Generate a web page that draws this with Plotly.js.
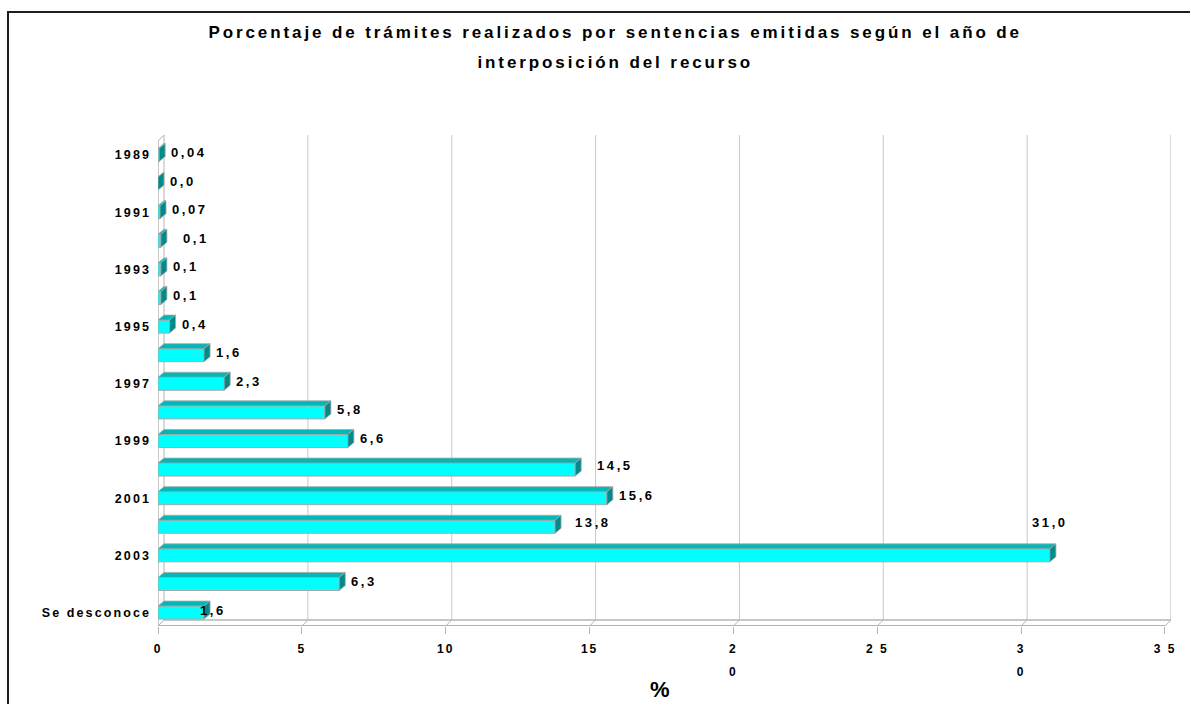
<!DOCTYPE html>
<html>
<head>
<meta charset="utf-8">
<script src="https://cdn.plot.ly/plotly-3.0.1.min.js"></script>
<style>
  body { margin: 0; background: #ffffff; }
  #wrap { position: relative; width: 1190px; height: 704px; overflow: hidden; }
  #chart { width: 1190px; height: 704px; }
  #frame { position: absolute; left: 7px; top: 11px; width: 1200px; height: 720px;
           border-left: 2px solid #1e1e1e; border-top: 2px solid #1e1e1e; pointer-events: none; }
  .gtitle { letter-spacing: 2.9px; }
  .ytick text { letter-spacing: 2.1px; }
  .xtick text { letter-spacing: 2px; }
  .annotation-text { letter-spacing: 2.6px; }
</style>
</head>
<body>
<div id="wrap">
  <div id="chart"></div>
  <div id="frame"></div>
</div>
<script>
// ---- data ----
const categories = ['1989','1990','1991','1992','1993','1994','1995','1996','1997',
                    '1998','1999','2000','2001','2002','2003','2004','Se desconoce'];
const values = [0.04, 0.0, 0.07, 0.1, 0.1, 0.1, 0.4, 1.6, 2.3,
                5.8, 6.6, 14.5, 15.6, 13.8, 31.0, 6.3, 1.6];
const xTickValues = [0, 5, 10, 15, 20, 25, 30, 35];
const xTickLabels = ['0', '5', '10', '15', '2<br><br>0', '2 5', '3<br><br>0', '3 5'];
const titleLine1 = 'Porcentaje de trámites realizados por sentencias emitidas según el año de';
const titleLine2 = 'interposición del recurso';
const xTitle = '%';

// ---- styling / geometry (not data) ----
const FONT = 'Liberation Sans, Arial, sans-serif';
const xMax = 35;
const depthX = 0.209;   // 3D depth offset in x units (~6px)
const depthY = 0.21;    // 3D depth offset in category units (~6px)
const barW = 0.455;
const barDX = 0.209, barDY = 0.175;
const yBottom = 16.47, yTop = -0.70;
const gridColor = '#c8c8c8', wallColor = '#b4b4b4';
const labelNudge = { '1992': [10, 0], '2000': [10, 2], '2002': [8, 2], '2003': [-30, 30], 'Se desconoce': [-16, 0] };
const big = s => '<span style="font-size:17px">' + s + '</span>';
const tk = s => '<span style="font-size:12px">' + s + '</span>';

const idx = categories.map((c, i) => i);

const shapes = [];
// back wall gridlines
xTickValues.forEach(k => {
  shapes.push({type:'line', xref:'x', yref:'y', layer:'below', x0:k+depthX, x1:k+depthX, y0:yTop, y1:yBottom-depthY,
               line:{color: k===0 || k===xMax ? wallColor : gridColor, width:1}});
  shapes.push({type:'line', xref:'x', yref:'y', layer:'below', x0:k, x1:k+depthX, y0:yBottom, y1:yBottom-depthY,
               line:{color:wallColor, width:1}});
});
// left wall front edge and top
shapes.push({type:'line', xref:'x', yref:'y', layer:'below', x0:0, x1:0, y0:yTop+depthY, y1:yBottom, line:{color:wallColor, width:1.5}});
shapes.push({type:'line', xref:'x', yref:'y', layer:'below', x0:0, x1:depthX, y0:yTop+depthY, y1:yTop, line:{color:wallColor, width:1}});
// floor lines
shapes.push({type:'line', xref:'x', yref:'y', layer:'below', x0:depthX, x1:xMax+depthX, y0:yBottom-depthY, y1:yBottom-depthY, line:{color:wallColor, width:1.5}});
shapes.push({type:'line', xref:'x', yref:'y', layer:'below', x0:0, x1:xMax, y0:yBottom, y1:yBottom, line:{color:wallColor, width:2}});

// 3D faces of the bars
values.forEach((v, i) => {
  const t = i - barW/2, b = i + barW/2;
  shapes.push({type:'path', xref:'x', yref:'y', layer:'above',
    path:`M0,${t} L${barDX},${t-barDY} L${v+barDX},${t-barDY} L${v},${t} Z`,
    fillcolor:'#00b8b8', line:{color:'#a8a8a8', width:0.8}});
  shapes.push({type:'path', xref:'x', yref:'y', layer:'above',
    path:`M${v},${t} L${v+barDX},${t-barDY} L${v+barDX},${b-barDY} L${v},${b} Z`,
    fillcolor:'#008a8a', line:{color:'#a8a8a8', width:0.8}});
});

const fmt = v => (v > 0 && v < 0.1 ? v.toFixed(2) : v.toFixed(1)).replace('.', ',');

const annotations = values.map((v, i) => {
  const n = labelNudge[categories[i]] || [0, 0];
  return {x: v + barDX, y: i - barDY/2, xref:'x', yref:'y', text: fmt(v), showarrow:false,
          xanchor:'left', yanchor:'middle', xshift: 4 + n[0], yshift: n[1],
          font:{family:FONT, size:13, color:'#000', weight:'bold'}};
});
annotations.push({x:0.4966, y:-0.13, xref:'paper', yref:'paper', text:xTitle, showarrow:false,
                  xanchor:'center', yanchor:'middle', font:{family:FONT, size:22, color:'#000', weight:'bold'}});

const trace = {
  type:'bar', orientation:'h', x: values, y: idx, width: barW,
  marker:{color:'#00ffff', line:{color:'#a8a8a8', width:1}},
  hoverinfo:'x+text', text: categories, textposition:'none'
};

const layout = {
  width:1190, height:704,
  paper_bgcolor:'#ffffff', plot_bgcolor:'rgba(0,0,0,0)',
  margin:{l:158, r:19, t:135, b:78},
  title:{text: big(titleLine1) + '<br><br>' + big(titleLine2),
         x:0.517, xref:'container', xanchor:'center', y:0.946, yref:'container', yanchor:'top',
         font:{family:FONT, size:11.5, color:'#000', weight:'bold'}},
  showlegend:false,
  bargap:0,
  xaxis:{range:[0, xMax+depthX], tickvals:xTickValues, ticktext:xTickLabels.map(tk), showgrid:false, zeroline:false,
         showline:false, ticks:'outside', ticklen:7, tickcolor:wallColor, tickwidth:1, ticklabelstandoff:8,
         tickfont:{family:FONT, size:9, color:'#000', weight:'bold'}},
  yaxis:{range:[yBottom, yTop], tickvals: idx.filter(i => i % 2 === 0),
         ticktext: idx.filter(i => i % 2 === 0).map(i => categories[i]),
         showgrid:false, zeroline:false, showline:false, ticks:'', ticklabelstandoff:6,
         tickfont:{family:FONT, size:12.5, color:'#000', weight:'bold'}},
  shapes: shapes,
  annotations: annotations
};

Plotly.newPlot('chart', [trace], layout, {displayModeBar:false, staticPlot:true});
</script>
</body>
</html>
